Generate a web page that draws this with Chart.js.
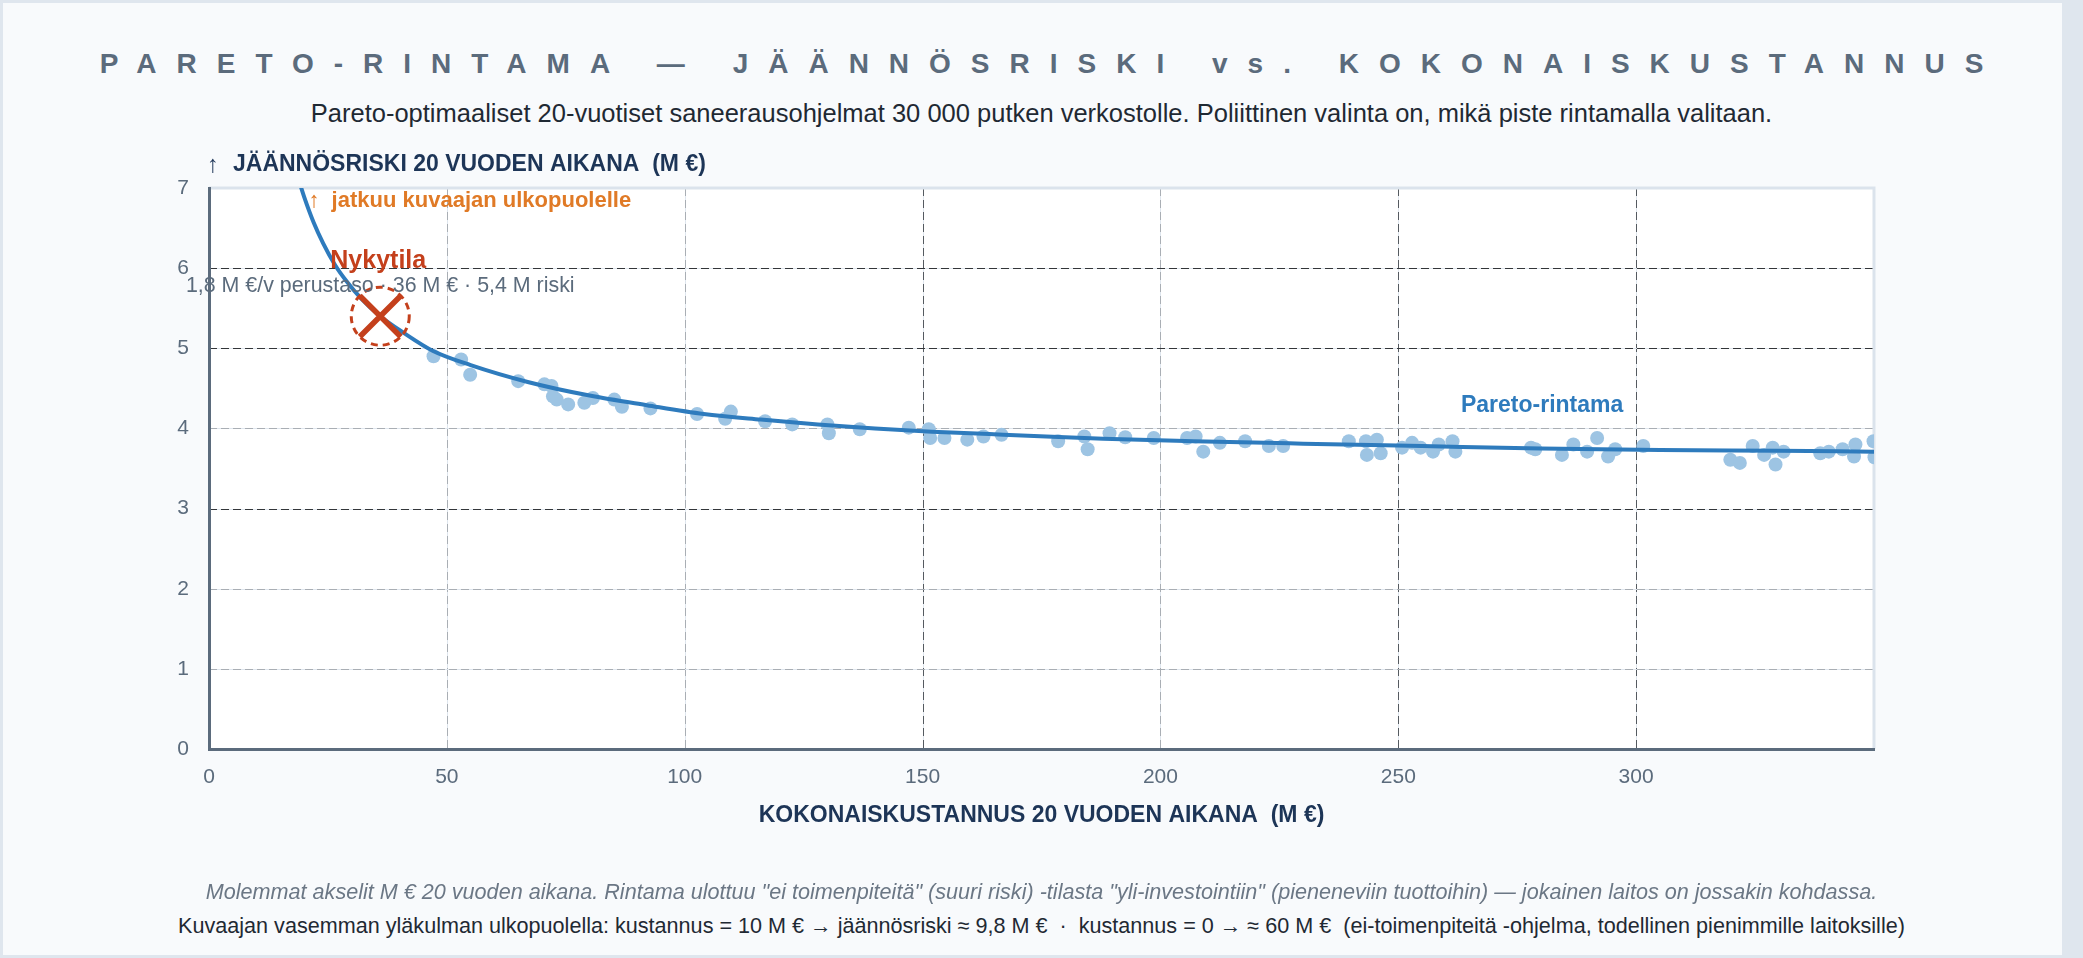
<!DOCTYPE html>
<html lang="fi">
<head>
<meta charset="utf-8">
<title>Pareto-rintama</title>
<script src="https://cdn.jsdelivr.net/npm/chart.js@4.4.1/dist/chart.umd.min.js"></script>
<style>
html, body { margin: 0; padding: 0; }
body {
    width: 2083px; height: 958px; position: relative; overflow: hidden;
    background: #dfe6ee;
    font-family: "Liberation Sans", Arial, sans-serif;
}
#card { position: absolute; left: 3px; top: 3px; width: 2059px; height: 952px; background: #f8fafc; }
.line { position: absolute; left: 0; width: 2083px; text-align: center; white-space: pre; }
#title { top: 48px; line-height: 32px; font-size: 28px; font-weight: bold; color: #5b6b7c; letter-spacing: 20px; padding-left: 20px; box-sizing: border-box; }
#subtitle { top: 98px; line-height: 30px; font-size: 25.5px; color: #1f2933; }
#note1 { top: 879px; line-height: 26px; font-size: 21.6px; font-style: italic; color: #6b7785; }
#note2 { top: 913px; line-height: 26px; font-size: 21.6px; color: #1f2933; }
#chart { position: absolute; left: 0; top: 140px; }
</style>
</head>
<body>
<div id="card"></div>
<div class="line" id="title">PARETO-RINTAMA — JÄÄNNÖSRISKI vs. KOKONAISKUSTANNUS</div>
<div class="line" id="subtitle">Pareto-optimaaliset 20-vuotiset saneerausohjelmat 30 000 putken verkostolle. Poliittinen valinta on, mikä piste rintamalla valitaan.</div>
<canvas id="chart" width="2083" height="740"></canvas>
<div class="line" id="note1">Molemmat akselit M € 20 vuoden aikana. Rintama ulottuu "ei toimenpiteitä" (suuri riski) -tilasta "yli-investointiin" (pieneneviin tuottoihin) — jokainen laitos on jossakin kohdassa.</div>
<div class="line" id="note2">Kuvaajan vasemman yläkulman ulkopuolella: kustannus = 10 M € → jäännösriski ≈ 9,8 M €  ·  kustannus = 0 → ≈ 60 M €  (ei-toimenpiteitä -ohjelma, todellinen pienimmille laitoksille)</div>

<script>

/* DATA */

// yksittäiset ohjelmat (kustannus M €, jäännösriski M €)
const programCost = [
    47.2, 53.0, 54.9, 65.0, 70.5, 72.0, 72.3, 73.1, 75.5, 78.9,
    80.7, 85.2, 86.8, 92.8, 102.6, 108.5, 109.7, 116.9, 122.6, 130.0,
    130.3, 136.8, 147.1, 151.3, 151.6, 154.6, 159.4, 162.8, 166.6, 178.5,
    184.0, 184.7, 189.3, 192.6, 198.6, 205.6, 207.4, 209.0, 212.5, 217.8,
    222.8, 225.8, 239.6, 243.2, 243.4, 245.5, 246.3, 250.8, 252.9, 254.7,
    257.3, 258.5, 261.4, 262.0, 277.9, 278.8, 284.4, 286.8, 289.7, 291.8,
    294.1, 295.6, 301.5, 319.8, 321.8, 324.5, 326.9, 328.7, 329.3, 331.0,
    338.7, 340.5, 343.4, 345.8, 346.1, 349.9, 350.1
];
const programRisk = [
    4.90, 4.86, 4.67, 4.59, 4.55, 4.53, 4.40, 4.36, 4.30, 4.32,
    4.38, 4.36, 4.27, 4.25, 4.18, 4.12, 4.21, 4.09, 4.05, 4.05,
    3.94, 3.99, 4.01, 3.99, 3.88, 3.88, 3.86, 3.90, 3.92, 3.84,
    3.90, 3.74, 3.94, 3.89, 3.88, 3.88, 3.90, 3.71, 3.82, 3.84,
    3.78, 3.78, 3.84, 3.84, 3.67, 3.86, 3.69, 3.76, 3.82, 3.76,
    3.71, 3.80, 3.84, 3.71, 3.76, 3.74, 3.67, 3.80, 3.71, 3.88,
    3.65, 3.74, 3.78, 3.61, 3.57, 3.78, 3.67, 3.76, 3.55, 3.71,
    3.69, 3.71, 3.74, 3.65, 3.80, 3.84, 3.64
];

// rintamakäyrä (alkaa kuvaajan yläreunan yläpuolelta)
const frontCost = [18.5, 20, 22, 24, 26.5, 29, 32, 36, 41, 47, 55, 67, 80, 92, 104, 116, 128, 140, 152, 164, 176, 188, 207, 230, 255, 280, 305, 330, 350];
const frontRisk = [7.17, 6.89, 6.57, 6.31, 6.04, 5.83, 5.62, 5.40, 5.19, 4.97, 4.79, 4.58, 4.41, 4.29, 4.18, 4.11, 4.05, 4.00, 3.96, 3.93, 3.90, 3.87, 3.84, 3.81, 3.78, 3.75, 3.73, 3.72, 3.71];

// nykytila
const currentCost = [36];
const currentRisk = [5.4];

const xTicks = [0, 50, 100, 150, 200, 250, 300];
const yTicks = [0, 1, 2, 3, 4, 5, 6, 7];

const xTitle = 'KOKONAISKUSTANNUS 20 VUODEN AIKANA  (M €)';
const yTitle = 'JÄÄNNÖSRISKI 20 VUODEN AIKANA  (M €)';

/* VARIT */

const RED = '#c4401c';
const BLUE = '#2e7bbd';
const DOT = '#9dc4e3';
const AXIS = '#5b6b7c';
const NAVY = '#1d3557';
const FONT = '"Liberation Sans", Arial, sans-serif';

// tummat ja vaaleat katkoviivat kuten kuvassa
const darkY = [3, 5, 6];
const darkX = [150, 250, 300];

function toPoints(xs, ys){
    return xs.map((v, i) => ({ x: v, y: ys[i] }));
}

/* TAUSTA + RUUDUKKO */

const frame = {
    id: 'frame',
    beforeDraw(chart){
        const { ctx, chartArea: a, scales: { x, y } } = chart;
        ctx.save();
        ctx.fillStyle = '#ffffff';
        ctx.fillRect(a.left, a.top, a.right - a.left, a.bottom - a.top);

        const line = (x1, y1, x2, y2, color, dash) => {
            ctx.beginPath();
            ctx.strokeStyle = color;
            ctx.lineWidth = 1;
            ctx.setLineDash(dash);
            ctx.moveTo(x1, y1);
            ctx.lineTo(x2, y2);
            ctx.stroke();
        };

        xTicks.slice(1).forEach(v => {
            const px = Math.round(x.getPixelForValue(v)) + 0.5;
            line(px, a.top, px, a.bottom, '#dfe6ee', []);
            line(px, a.top, px, a.bottom, darkX.includes(v) ? '#555a60' : '#a9aeb4', [8, 4]);
        });
        yTicks.slice(1, -1).forEach(v => {
            const py = Math.round(y.getPixelForValue(v)) + 0.5;
            line(a.left, py, a.right, py, '#dfe6ee', []);
            line(a.left, py, a.right, py, darkY.includes(v) ? '#333639' : '#a9aeb4', [8, 4]);
        });

        // ylä- ja oikea reuna
        ctx.setLineDash([]);
        ctx.strokeStyle = '#dbe3ec';
        ctx.lineWidth = 3;
        ctx.beginPath();
        ctx.moveTo(a.left, a.top);
        ctx.lineTo(a.right, a.top);
        ctx.lineTo(a.right, a.bottom);
        ctx.stroke();

        // y-akselin otsikko
        ctx.fillStyle = NAVY;
        ctx.textBaseline = 'middle';
        ctx.textAlign = 'left';
        ctx.font = '24px ' + FONT;
        ctx.fillText('↑', a.left - 2, a.top - 23);
        ctx.font = 'bold 23px ' + FONT;
        ctx.fillText(yTitle, a.left + 24, a.top - 23);
        ctx.restore();
    }
};

/* TEKSTIT KUVAAJAN SISALLA */

const notes = {
    id: 'notes',
    afterDatasetsDraw(chart){
        const { ctx, chartArea: a, scales: { x, y } } = chart;
        const mx = x.getPixelForValue(currentCost[0]);
        const my = y.getPixelForValue(currentRisk[0]);

        ctx.save();

        // katkoviivaympyra nykytilan ympari
        ctx.strokeStyle = RED;
        ctx.lineWidth = 3;
        ctx.setLineDash([7, 5]);
        ctx.beginPath();
        ctx.arc(mx, my, 29, 0, Math.PI * 2);
        ctx.stroke();
        ctx.setLineDash([]);

        ctx.textBaseline = 'middle';
        ctx.textAlign = 'center';
        ctx.fillStyle = RED;
        ctx.font = 'bold 25px ' + FONT;
        ctx.fillText('Nykytila', mx - 2, my - 55);

        ctx.fillStyle = AXIS;
        ctx.font = '21.4px ' + FONT;
        ctx.fillText('1,8 M €/v perustaso · 36 M € · 5,4 M riski', mx, my - 30);

        // kayra jatkuu ylos
        ctx.textAlign = 'left';
        ctx.fillStyle = '#e07a26';
        ctx.font = 'bold 22px ' + FONT;
        ctx.fillText('↑  jatkuu kuvaajan ulkopuolelle', x.getPixelForValue(19) + 9, a.top + 13);

        // rintaman nimi
        ctx.textAlign = 'right';
        ctx.fillStyle = BLUE;
        ctx.font = 'bold 23px ' + FONT;
        ctx.fillText('Pareto-rintama', x.getPixelForValue(297.3), y.getPixelForValue(4.29));

        ctx.restore();
    }
};

/* KUVAAJA */

new Chart(document.getElementById('chart'), {
    type: 'scatter',
    data: {
        datasets: [
            {
                label: 'Nykytila',
                data: toPoints(currentCost, currentRisk),
                pointStyle: 'crossRot',
                pointRadius: 29,
                pointBorderWidth: 5.5,
                pointBorderColor: RED,
                pointBackgroundColor: RED,
                clip: false,
                order: 0
            },
            {
                type: 'line',
                label: 'Pareto-rintama',
                data: toPoints(frontCost, frontRisk),
                borderColor: BLUE,
                borderWidth: 4,
                pointRadius: 0,
                cubicInterpolationMode: 'monotone',
                fill: false,
                clip: 0,
                order: 1
            },
            {
                label: 'Ohjelmat',
                data: toPoints(programCost, programRisk),
                pointRadius: 7,
                pointBorderWidth: 0,
                pointBackgroundColor: DOT,
                pointBorderColor: DOT,
                clip: 0,
                order: 2
            }
        ]
    },
    options: {
        responsive: false,
        animation: false,
        devicePixelRatio: 1,
        layout: { padding: { left: 149, right: 209, top: 48, bottom: 31 } },
        plugins: {
            legend: { display: false },
            tooltip: { enabled: false }
        },
        scales: {
            x: {
                type: 'linear',
                min: 0,
                max: 350,
                afterBuildTicks: s => { s.ticks = xTicks.map(v => ({ value: v })); },
                afterFit: s => { s.height = 100; },
                grid: { display: false, drawTicks: false },
                border: { display: true, color: AXIS, width: 3 },
                ticks: { color: AXIS, font: { family: FONT, size: 21 }, padding: 16 },
                title: {
                    display: true,
                    text: xTitle,
                    color: NAVY,
                    font: { family: FONT, size: 23, weight: 'bold' },
                    padding: { top: 0, bottom: 20 }
                }
            },
            y: {
                type: 'linear',
                min: 0,
                max: 7,
                afterBuildTicks: s => { s.ticks = yTicks.map(v => ({ value: v })); },
                afterFit: s => { s.width = 60; },
                grid: { display: false, drawTicks: false },
                border: { display: true, color: AXIS, width: 3 },
                ticks: { color: AXIS, font: { family: FONT, size: 21 }, padding: 20 }
            }
        }
    },
    plugins: [frame, notes]
});

</script>
</body>
</html>
